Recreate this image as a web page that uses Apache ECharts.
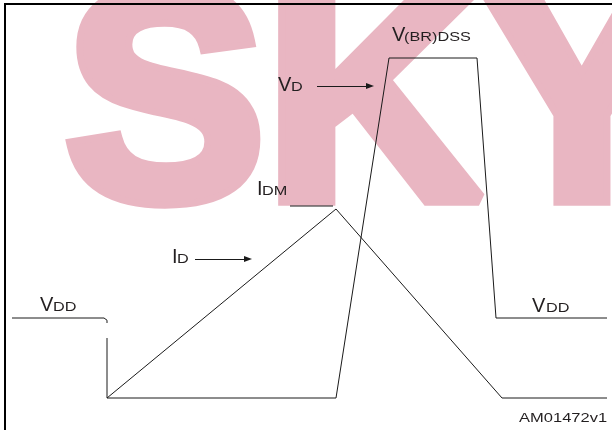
<!DOCTYPE html>
<html>
<head>
<meta charset="utf-8">
<script src="https://cdn.jsdelivr.net/npm/echarts@6/dist/echarts.min.js"></script>
<style>
html,body{margin:0;padding:0;background:#fff;}
#c{width:612px;height:430px;}
</style>
</head>
<body>
<div id="c"></div>
<script>
// Time axis: t = 0 at switch-off; amplitude axis: 0 = zero level (arbitrary units)
const vdLead = [[-95, 80], [-3, 80], [-1, 79.4], [0, 77.8], [0, 75]];
const vdWave = [[0, 60], [0, 0], [229, 0], [282, 340], [370, 340], [389, 80], [500, 80]];
const idWave = [[0, 0], [229, 189], [395, 0], [500, 0]];
const idmMark = [[183, 192], [226, 192]];
const vdArrow = [[210, 312], [263, 312]];
const idArrow = [[88, 139], [141, 139]];
const labels = [
  { big: 'V', small: '(BR)DSS' },
  { big: 'V', small: 'D' },
  { big: 'I', small: 'DM' },
  { big: 'I', small: 'D' },
  { big: 'V', small: 'DD' },
  { big: 'V', small: 'DD' }
];
const watermark = 'SKY';
const figureId = 'AM01472v1';

const LINE = '#1a1a1a';
const TXT = '#231f20';
const FONT = '"Liberation Sans", Arial, sans-serif';

// layout (pixel positions of labels): [bigX, subX, baseline]
const labelPos = [
  [392, 404, 41],
  [278, 291, 91],
  [257, 262, 195],
  [172, 177, 263],
  [40, 53, 311],
  [532, 546, 312]
];

function mid(base, size) { return base - 0.28 * size; }

const graphics = [];
graphics.push({
  type: 'text', x: 65, y: mid(200, 300), z: 0, silent: true,
  style: {
    text: watermark, font: 'bold 300px ' + FONT, fill: '#e9b6c2',
    stroke: '#e9b6c2', lineWidth: 14, lineJoin: 'round',
    align: 'left', verticalAlign: 'middle'
  }
});
labels.forEach((l, i) => {
  const p = labelPos[i];
  graphics.push({
    type: 'text', x: p[0], y: mid(p[2], 20), z: 10,
    style: { text: l.big, font: '20px ' + FONT, fill: TXT, align: 'left', verticalAlign: 'middle' }
  });
  graphics.push({
    type: 'text', x: p[1], y: mid(p[2], 13), z: 10, scaleX: 1.25,
    style: { text: l.small, font: '13px ' + FONT, fill: TXT, align: 'left', verticalAlign: 'middle' }
  });
});
graphics.push({
  type: 'text', x: 519, y: mid(422, 13), z: 10, scaleX: 1.27,
  style: { text: figureId, font: '13px ' + FONT, fill: TXT, align: 'left', verticalAlign: 'middle' }
});
graphics.push({
  type: 'polyline', z: 20,
  shape: { points: [[5, 440], [5, 4], [620, 4]] },
  style: { stroke: '#000', lineWidth: 2, fill: null }
});

function lineSeries(name, data) {
  return {
    name, type: 'line', data, symbol: 'none', silent: true, animation: false,
    lineStyle: { color: LINE, width: 1 }, z: 5
  };
}

const chart = echarts.init(document.getElementById('c'), null, { renderer: 'canvas' });
chart.setOption({
  backgroundColor: '#ffffff',
  animation: false,
  grid: { left: 0, right: 0, top: 0, bottom: 0 },
  xAxis: { type: 'value', min: -107, max: 505, show: false },
  yAxis: { type: 'value', min: -32, max: 398, show: false },
  series: [
    lineSeries('VD lead', vdLead),
    lineSeries('VD', vdWave),
    lineSeries('ID', idWave),
    lineSeries('IDM', idmMark),
    {
      name: 'arrows', type: 'line', data: [], silent: true, animation: false, z: 5,
      markLine: {
        silent: true, animation: false,
        symbol: ['none', 'triangle'], symbolSize: [6, 8],
        label: { show: false },
        lineStyle: { type: 'solid', color: LINE, width: 1 },
        itemStyle: { color: LINE },
        emphasis: { disabled: true },
        data: [
          [{ coord: vdArrow[0] }, { coord: vdArrow[1] }],
          [{ coord: idArrow[0] }, { coord: idArrow[1] }]
        ]
      }
    }
  ],
  graphic: graphics
});
</script>
</body>
</html>
